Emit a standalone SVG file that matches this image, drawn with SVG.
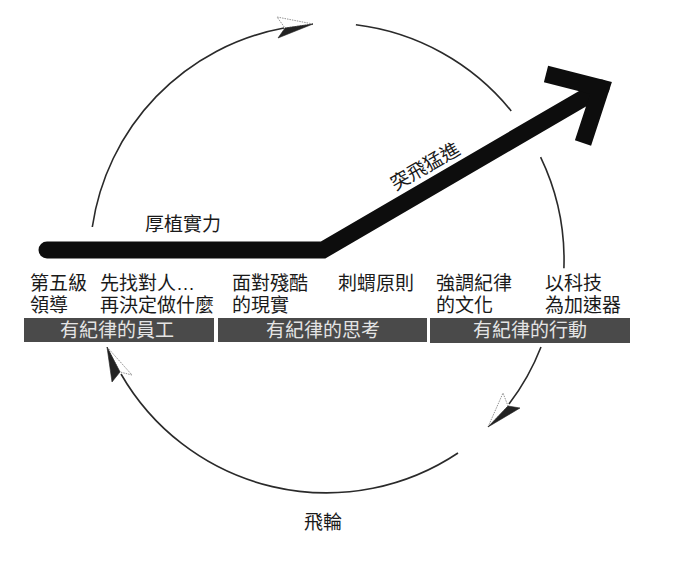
<svg xmlns="http://www.w3.org/2000/svg" width="698" height="565" viewBox="0 0 698 565">
<style>
  .t { font-family: "Liberation Sans", "Noto Sans CJK TC", "Noto Sans CJK SC", sans-serif; font-size: 19px; fill: #1a1a1a; }
  .bt { font-family: "Liberation Sans", "Noto Sans CJK TC", "Noto Sans CJK SC", sans-serif; font-size: 19px; fill: #e4e4e4; text-anchor: middle; }
  .bar { fill: #4a4a4a; }
  .arc { fill: none; stroke: #2a2a2a; stroke-width: 1.6; }
  .ahd { fill: #222; stroke: #222; stroke-width: 0.6; stroke-linejoin: round; }
  .ahl { fill: #fff; stroke: #777; stroke-width: 0.8; stroke-dasharray: 1.5 1; }
  .big { fill: none; stroke: #0d0d0d; stroke-width: 17; }
</style>
<rect width="698" height="565" fill="#ffffff"/>

<g id="connectors">
  <!-- flywheel arcs -->
  <path class="arc" d="M92.3,227 A237,237 0 0 1 284,28"/>
  <path class="arc" d="M355.9,24.8 A237,237 0 0 1 511.2,110.9"/>
  <path class="arc" d="M540.6,157.2 A237,237 0 0 1 563.9,268.3"/>
  <path class="arc" d="M541,347 A232,232 0 0 1 509,404"/>
  <path class="arc" d="M458,453 A237,237 0 0 1 121,374"/>
  <!-- arrowheads -->
  <g id="ah-top">
    <polygon class="ahl" points="313,24 277,17 285,28"/>
    <polygon class="ahd" points="313,24 285,28 278,38"/>
  </g>
  <g id="ah-right">
    <polygon class="ahl" points="488,427 503,393 508,406"/>
    <polygon class="ahd" points="488,427 508,406 520,408"/>
  </g>
  <g id="ah-left">
    <polygon class="ahl" points="107,347 132,375 120,372"/>
    <polygon class="ahd" points="107,347 120,372 112,382"/>
  </g>
  <!-- big arrow -->
  <path class="big" d="M47,250 L323,250 L601,88" stroke-linecap="round" stroke-linejoin="miter"/>
  <path class="big" d="M546,74 L601,88 L583,143" stroke-linejoin="miter" stroke-miterlimit="10"/>
</g>

<g id="label-houzhi"><text class="t" x="145" y="231">厚植實力</text></g>
<g id="label-tufei"><text class="t" transform="translate(425,166) rotate(-30)" x="0" y="7" text-anchor="middle">突飛猛進</text></g>

<g id="node-level5">
  <text class="t" x="30" y="290">第五級</text>
  <text class="t" x="30" y="312">領導</text>
</g>
<g id="node-firstwho">
  <text class="t" x="100" y="290">先找對人…</text>
  <text class="t" x="100" y="312">再決定做什麼</text>
</g>
<g id="node-brutal">
  <text class="t" x="232" y="290">面對殘酷</text>
  <text class="t" x="232" y="312">的現實</text>
</g>
<g id="node-hedgehog">
  <text class="t" x="338" y="290">刺蝟原則</text>
</g>
<g id="node-culture">
  <text class="t" x="436" y="290">強調紀律</text>
  <text class="t" x="436" y="312">的文化</text>
</g>
<g id="node-tech">
  <text class="t" x="545" y="290">以科技</text>
  <text class="t" x="545" y="312">為加速器</text>
</g>

<g id="bar-people">
  <rect class="bar" x="24" y="318" width="190" height="24"/>
  <text class="bt" x="117" y="337">有紀律的員工</text>
</g>
<g id="bar-thought">
  <rect class="bar" x="218" y="318" width="209" height="24"/>
  <text class="bt" x="323" y="337">有紀律的思考</text>
</g>
<g id="bar-action">
  <rect class="bar" x="430" y="318" width="200" height="25"/>
  <text class="bt" x="530" y="337">有紀律的行動</text>
</g>

<g id="label-flywheel"><text class="t" x="323" y="529" text-anchor="middle">飛輪</text></g>
</svg>
